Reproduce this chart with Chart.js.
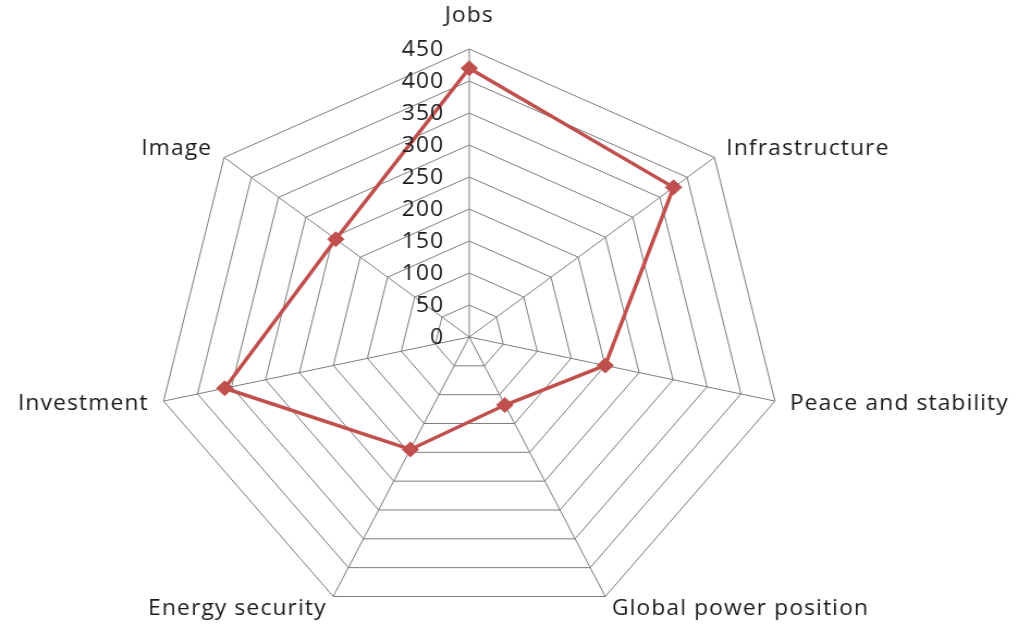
<!DOCTYPE html>
<html>
<head>
<meta charset="utf-8">
<script src="https://cdn.jsdelivr.net/npm/chart.js@4"></script>
<style>
  html, body { margin: 0; padding: 0; background: #fff; }
</style>
</head>
<body>
<canvas id="radar" width="935" height="626" style="width:1018px;height:626px"></canvas>
<script>
const categories = ["Jobs", "Infrastructure", "Peace and stability", "Global power position", "Energy security", "Investment", "Image"];
const scores = [420, 375, 200, 118, 195, 360, 245];
const tickValues = [0, 50, 100, 150, 200, 250, 300, 350, 400, 450];

const textColor = "#1a1a1a";
const gridColor = "#7c7c7c";
const lineColor = "#c0504d";
const labelFont = "21px 'Open Sans'";

// value labels up the Jobs spoke + category names (Excel style placement)
const axisText = {
    id: "axisText",
    afterDraw(chart) {
        const r = chart.scales.r;
        const ctx = chart.ctx;
        ctx.save();
        ctx.font = labelFont;
        ctx.letterSpacing = "1px";
        ctx.fillStyle = textColor;
        ctx.textBaseline = "middle";

        ctx.textAlign = "right";
        r.ticks.forEach(t => {
            const y = r.yCenter - r.getDistanceFromCenterForValue(t.value);
            ctx.fillText(String(t.value), r.xCenter - 23, y + 1);
        });

        categories.forEach((name, i) => {
            const p = r.getPointPosition(i, r.drawingArea + 14);
            const dx = p.x - r.xCenter;
            let y = p.y;
            if (Math.abs(dx) < 1) {
                ctx.textAlign = "center";
                y -= 19;
            } else {
                ctx.textAlign = dx > 0 ? "left" : "right";
            }
            ctx.fillText(name, p.x, y);
        });
        ctx.restore();
    }
};

new Chart(document.getElementById("radar"), {
    type: "radar",
    data: {
        labels: categories,
        datasets: [{
            label: "Score",
            data: scores,
            borderColor: lineColor,
            backgroundColor: lineColor,
            borderWidth: 3.5,
            fill: false,
            tension: 0,
            pointStyle: "rectRot",
            pointRadius: 7.5,
            pointBorderWidth: 1,
            pointBackgroundColor: lineColor,
            pointBorderColor: lineColor
        }]
    },
    options: {
        responsive: false,
        animation: false,
        devicePixelRatio: 1,
        layout: { padding: { left: 140, top: 49, right: 213, bottom: -5 } },
        plugins: {
            legend: { display: false },
            tooltip: { enabled: false }
        },
        scales: {
            r: {
                min: 0,
                max: 450,
                afterBuildTicks: s => { s.ticks = tickValues.map(v => ({ value: v })); },
                ticks: { display: false },
                pointLabels: { display: false },
                grid: { color: gridColor, lineWidth: 1 },
                angleLines: { color: gridColor, lineWidth: 1 }
            }
        }
    },
    plugins: [axisText]
});
</script>
</body>
</html>
